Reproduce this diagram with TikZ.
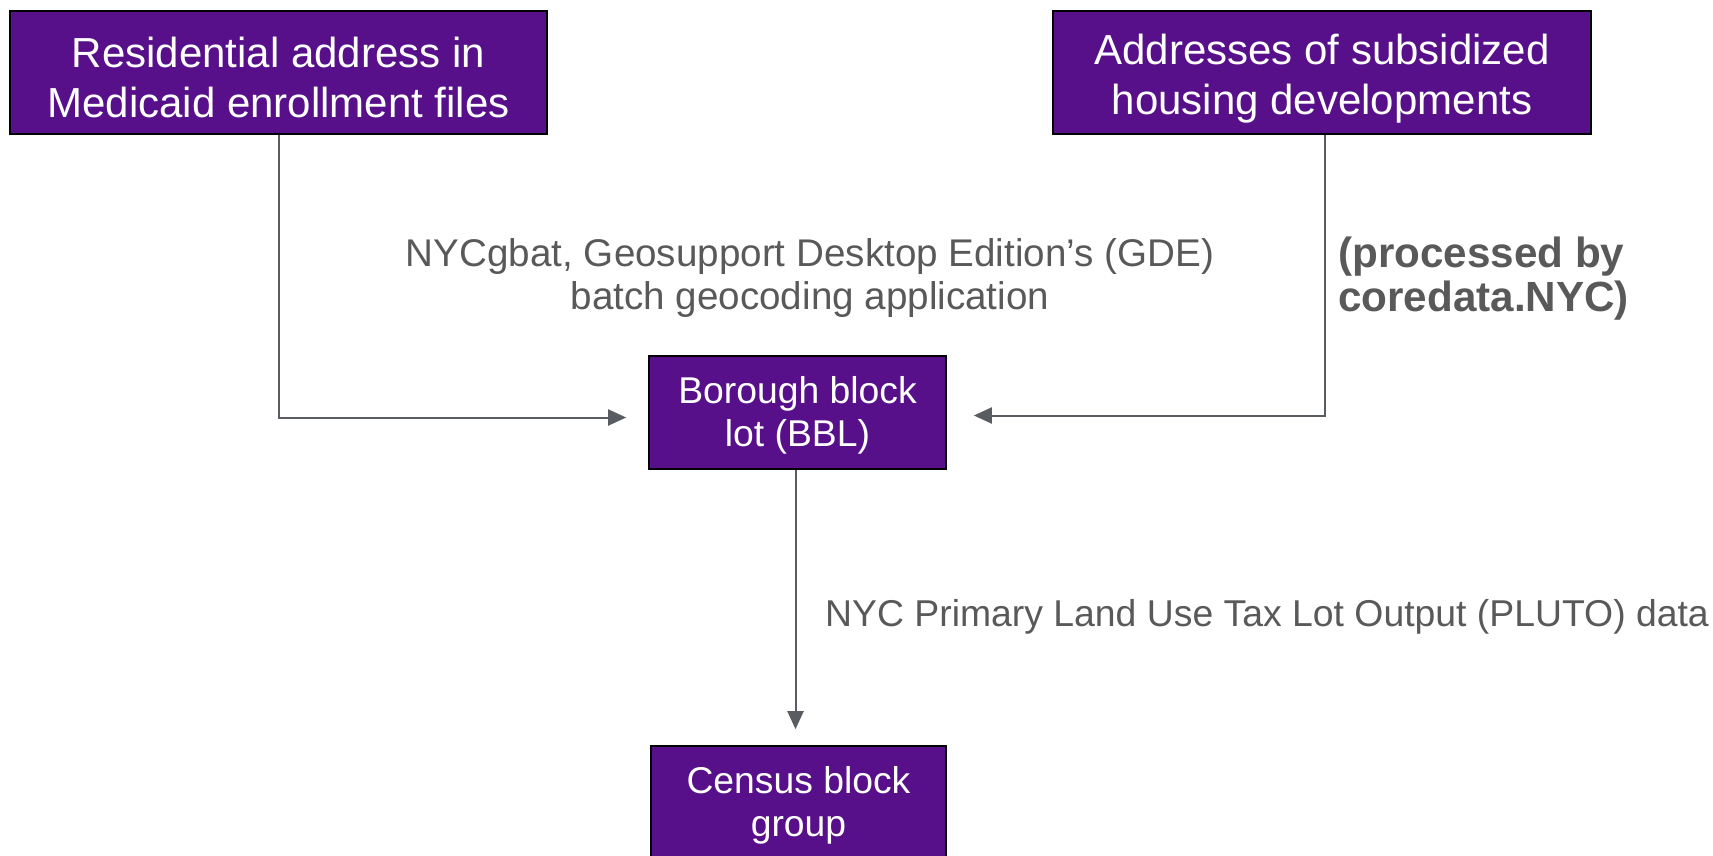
\documentclass[tikz,border=0pt]{standalone}
\usepackage{fontspec}
\setmainfont{Liberation Sans}
\usetikzlibrary{arrows.meta}
\definecolor{boxpurple}{RGB}{87,16,137}
\definecolor{txtgray}{RGB}{89,89,89}
\definecolor{linegray}{RGB}{89,92,96}
% asymmetric struts so that the baselines sit where the reference has them
\newcommand{\bigstr}{\rule[-3.5pt]{0pt}{46.5pt}}
\newcommand{\smallstr}{\rule[-5.5pt]{0pt}{37.5pt}}
\begin{document}
\begin{tikzpicture}[x=1pt,y=-1pt,
  purplebox/.style={draw=black,line width=1.6pt,fill=boxpurple,text=white,
    align=center,inner sep=0pt},
  bigfont/.style={font=\fontsize{42}{50}\selectfont},
  smallfont/.style={font=\fontsize{37.3}{43}\selectfont},
  note/.style={text=txtgray,inner sep=0pt},
  arr/.style={draw=linegray,line width=2pt,-{Triangle[length=18pt,width=16pt]}}]
\useasboundingbox (0,0) rectangle (1713,856);
\node[purplebox,bigfont,minimum width=537pt,minimum height=123pt] (res) at (278.5,72.5)
  {\bigstr Residential address in\\\bigstr Medicaid enrollment files};
\node[purplebox,bigfont,minimum width=538pt,minimum height=123pt] (sub) at (1322,72.5)
  {\bigstr Addresses of subsidized\\\bigstr housing developments};
\node[purplebox,smallfont,minimum width=297pt,minimum height=113pt] (bbl) at (797.5,412.5)
  {\smallstr Borough block\\\smallstr lot (BBL)};
\node[purplebox,smallfont,minimum width=295pt,minimum height=114pt] (cen) at (798.5,803)
  {\smallstr Census block\\\smallstr group};
\node[note,align=center,font=\fontsize{38.6}{43}\selectfont] (gde) at (810,278.5)
  {NYCgbat, Geosupport Desktop Edition’s (GDE)\\batch geocoding application};
\node[note,align=left,anchor=west,font=\fontsize{42.2}{44}\selectfont\bfseries] (core) at (1338,278.5)
  {(processed by\\coredata.NYC)};
\node[note,anchor=west,font=\fontsize{37.35}{43}\selectfont] (pluto) at (825,617)
  {NYC Primary Land Use Tax Lot Output (PLUTO) data};
\draw[arr] (res.south) |- ([xshift=-22pt,yshift=-5pt]bbl.west);
\draw[arr] ([xshift=3pt]sub.south) |- ([xshift=27pt,yshift=-3pt]bbl.east);
\draw[arr] ([xshift=-2pt]bbl.south) -- ([xshift=-3pt,yshift=16pt]cen.north);
\end{tikzpicture}
\end{document}
